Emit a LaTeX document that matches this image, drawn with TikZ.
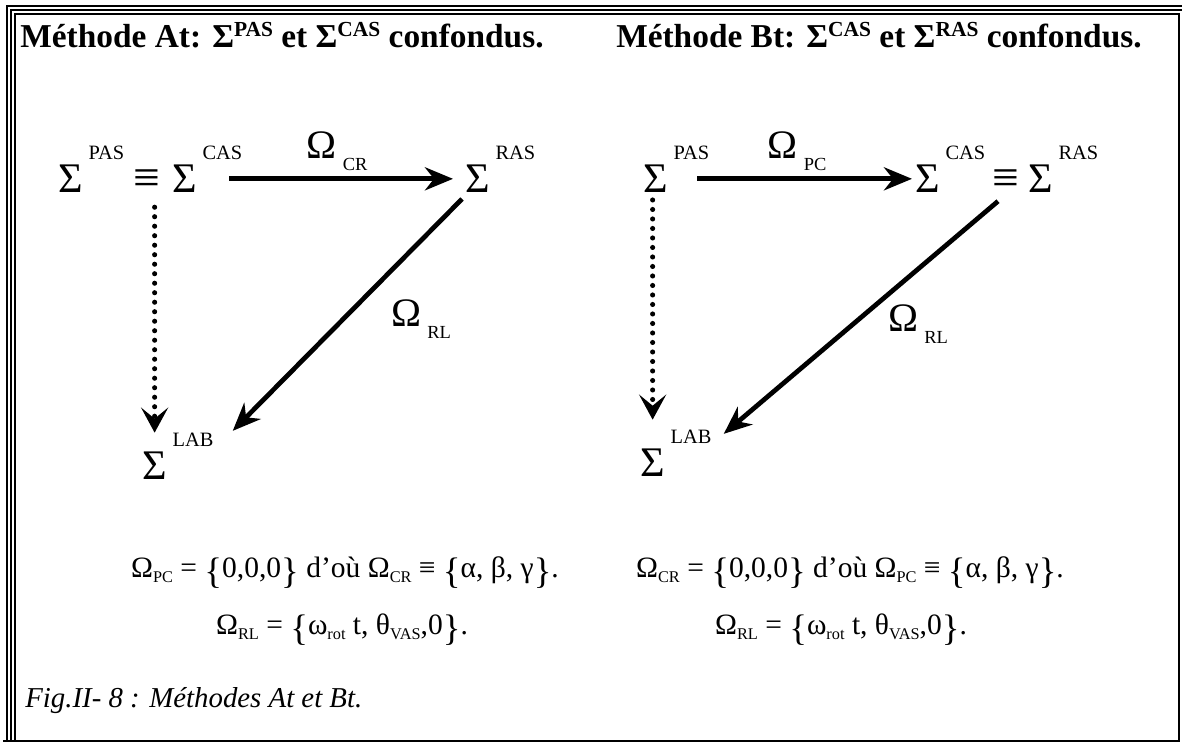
\documentclass[tikz,border=0pt]{standalone}
\usepackage{fontspec}
\setmainfont{Liberation Serif}
\usetikzlibrary{arrows.meta}

\newcommand{\omlab}[1]{{\fontsize{23}{23}\selectfont Ω}\hspace{0.12cm}\raisebox{-0.24cm}{\fontsize{10.5}{10}\selectfont #1}}
\newcommand{\tsup}[1]{\raisebox{0.22cm}{\fontsize{12.2}{12}\selectfont\bfseries #1}}
\newcommand{\eqsub}[1]{\raisebox{-0.1cm}{\fontsize{9.3}{9}\selectfont #1}}
\newcommand{\lbr}{\raisebox{-3.4pt}{\fontsize{21}{21}\selectfont\{}}
\newcommand{\rbr}{\raisebox{-3.4pt}{\fontsize{21}{21}\selectfont\}}}

\begin{document}
\begin{tikzpicture}[
    sig/.style={inner sep=0pt, anchor=south west, font=\fontsize{24}{24}\selectfont},
    sup/.style={inner sep=0pt, anchor=base west, xshift=0.1cm, yshift=0.1cm, font=\fontsize{11.6}{12}\selectfont},
    equiv/.style={inner sep=0pt, font=\fontsize{27}{27}\selectfont},
    omega/.style={inner sep=0pt},
    arr/.style={line width=2.7pt, -{Stealth[length=0.56cm, width=0.46cm, inset=0.18cm]}},
    dotarr/.style={line width=2.9pt, line cap=round, dash pattern=on 0pt off 0.19cm, -{Stealth[length=0.5cm, width=0.54cm, inset=0.22cm]}},
    title/.style={anchor=base, inner sep=0pt, font=\fontsize{19}{20}\selectfont\bfseries},
    eqn/.style={anchor=base, inner sep=0pt, font=\fontsize{16.8}{17}\selectfont}
]

    % Frame
    \useasboundingbox (0,0) rectangle (23.64,14.9);
    \draw[line width=1.4pt] (23.64,14.78) -- (0.14,14.78) -- (0.14,0.06);
    \draw[line width=0.75pt] (23.64,14.70) -- (0.22,14.70) -- (0.22,0.06);
    \draw[line width=0.75pt] (0.30,0.06) -- (0.30,14.62) -- (23.58,14.62);
    \draw[line width=1.4pt] (23.58,14.64) -- (23.58,0.08) -- (0.06,0.08);

    % Titles
    \node[title] (titleA) at (5.64,13.94) {Méthode At: Σ\tsup{PAS} et Σ\tsup{CAS} confondus.};
    \node[title] (titleB) at (17.58,13.94) {Méthode Bt: Σ\tsup{CAS} et Σ\tsup{RAS} confondus.};

    % Method At
    \node[sig, label={[sup]north east:PAS}] (pasA) at (1.16,11.04) {Σ};
    \node[equiv] (eqA) at (2.94,11.26) {≡};
    \node[sig, label={[sup]north east:CAS}] (casA) at (3.44,11.04) {Σ};
    \node[sig, label={[sup]north east:RAS}] (rasA) at (9.30,11.04) {Σ};
    \node[sig, label={[sup, name=labAsup]north east:LAB}] (labA) at (2.84,5.30) {Σ};

    \draw[arr, shorten >=0.24cm] ([xshift=0.64cm]casA.east) -- (rasA.west)
        node[omega, midway, above=0.12cm, xshift=-0.2cm] (omCR) {\omlab{CR}};
    \draw[arr] ([xshift=-0.06cm, yshift=-0.12cm]rasA.south west) -- ([xshift=0.38cm, yshift=0.04cm]labAsup.north east)
        node[omega, midway, anchor=west, xshift=0.83cm, yshift=-0.09cm] (omRLA) {\omlab{RL}};
    \draw[dotarr, shorten <=0.26cm, shorten >=0.38cm] (labA.north |- eqA.south) -- (labA.north);

    % Method Bt
    \node[sig, label={[sup]north east:PAS}] (pasB) at (12.86,11.04) {Σ};
    \node[sig, label={[sup]north east:CAS}] (casB) at (18.30,11.04) {Σ};
    \node[equiv] (eqB) at (20.12,11.26) {≡};
    \node[sig, label={[sup]north east:RAS}] (rasB) at (20.56,11.04) {Σ};
    \node[sig, label={[sup, name=labBsup]north east:LAB}] (labB) at (12.80,5.36) {Σ};

    \draw[arr, shorten >=0.06cm] ([xshift=0.58cm]pasB.east) -- (casB.west)
        node[omega, midway, above=0.12cm, xshift=-0.18cm] (omPC) {\omlab{PC}};
    \draw[arr] ([xshift=-0.16cm, yshift=-0.14cm]eqB.south) -- ([xshift=0.24cm, yshift=-0.08cm]labBsup.north east)
        node[omega, midway, anchor=west, xshift=0.5cm, yshift=-0.13cm] (omRLB) {\omlab{RL}};
    \draw[dotarr, shorten <=0.14cm, shorten >=0.58cm] (labB.north |- pasB.south) -- (labB.north);

    % Relations
    \node[eqn] (relA1) at (6.9,3.34) {Ω\eqsub{PC} = \lbr0,0,0\rbr\ d'où Ω\eqsub{CR} ≡ \lbr α, β, γ\rbr.};
    \node[eqn] (relA2) at (6.84,2.2) {Ω\eqsub{RL} = \lbr ω\eqsub{rot} t, θ\eqsub{VAS},0\rbr.};
    \node[eqn] (relB1) at (17.0,3.34) {Ω\eqsub{CR} = \lbr0,0,0\rbr\ d'où Ω\eqsub{PC} ≡ \lbr α, β, γ\rbr.};
    \node[eqn] (relB2) at (16.82,2.2) {Ω\eqsub{RL} = \lbr ω\eqsub{rot} t, θ\eqsub{VAS},0\rbr.};

    % Caption
    \node[anchor=base west, inner sep=0pt, font=\fontsize{16.4}{17}\selectfont\itshape] (caption) at (0.5,0.74) {Fig.II- 8 : Méthodes At et Bt.};

\end{tikzpicture}
\end{document}
